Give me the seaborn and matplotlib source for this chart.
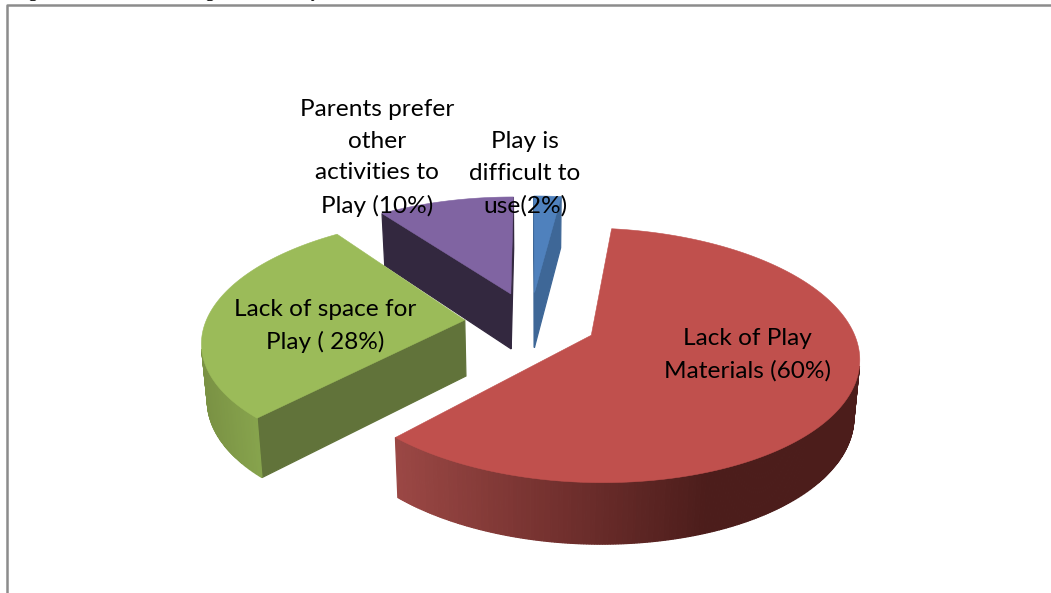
import numpy as np
import seaborn as sns
import matplotlib.pyplot as plt

# values
categories = ["Lack of Play\nMaterials (60%)", "Lack of space for\nPlay ( 28%)",
              "Parents prefer\nother\nactivities to\nPlay (10%)", "Play is\ndifficult to\nuse(2%)"]
values = [60, 28, 10, 2]
top_colors = ["#c0504d", "#9bbb59", "#8064a2", "#4f81bd"]
cut_colors = ["#5a2321", "#61733a", "#33283f", "#3e6797"]
# rim shades, left to right
rim_colors = [["#9a4744", "#74312f", "#4c1d1b", "#4c1d1b"],
              ["#7a9244", "#8aa84f", "#8aa84f"],
              ["#33283f", "#33283f"],
              ["#3e6797", "#3e6797"]]
label_pos = [(747, 355), (325, 326), (377, 158), (525, 174)]
# bottoms of the cut off caption above the frame
caption_bits = ["g", "g", "y"]
caption_x = [33, 210, 315]

# projection of the exploded pie
start_angle = 7.2
cx, cy = 530.5, 322
R, A = 259, 120
persp = 0.155
explode = 0.255
depth = 56
shrink = 0.018

sns.set_style("white")
plt.rcParams['font.family'] = ['Lato', 'DejaVu Sans']

fig = plt.figure(figsize=(10.51, 5.93), dpi=100)
ax = fig.add_axes([0, 0, 1, 1])
ax.set_xlim(0, 1051)
ax.set_ylim(593, 0)
ax.axis('off')


def project(u, v, low=False):
    w = 1 + persp * v
    x = R * u / w
    y = -A * v / w
    if low:
        x = x * (1 - shrink)
        y = y + depth / np.sqrt(w)
    return cx + x, cy + y


def area(pts):
    pts = np.array(pts)
    x, y = pts[:, 0], pts[:, 1]
    return np.sum(x * np.roll(y, -1) - np.roll(x, -1) * y)


def side(a, b, color):
    # a and b are plane points, going clockwise round the slice
    pts = [project(*a), project(*b), project(*b, low=True), project(*a, low=True)]
    if area(pts) < 0:
        ax.fill(*zip(*pts), color=color, lw=0.9)


# frame of the document picture, only top and left are in the crop
ax.plot([1051, 7, 7], [5, 5, 593], color="#8c8c8c", lw=1.8)

for bit, bx in zip(caption_bits, caption_x):
    ax.text(bx, -7.4, bit, ha='center', va='center', fontsize=12, fontweight='bold',
            family='Liberation Serif', color='black')

ends = start_angle + np.cumsum(values) * 3.6
starts = ends - np.array(values) * 3.6
slices = list(zip(starts, ends, top_colors, cut_colors, rim_colors))

# back slices first
for i in [2, 3, 1, 0]:
    s, e, top, cut, rim = slices[i]
    mid = np.radians((s + e) / 2)
    ox, oy = explode * np.sin(mid), explode * np.cos(mid)
    th = np.radians(np.linspace(s, e, int(e - s) * 2 + 2))
    rim_pts = [(ox + np.sin(t), oy + np.cos(t)) for t in th]
    apex = (ox, oy)
    side(apex, rim_pts[0], cut)
    side(rim_pts[-1], apex, cut)
    shades = sns.blend_palette(rim, n_colors=101)
    xs = np.array([project(*p)[0] for p in rim_pts])
    for j in range(len(rim_pts) - 1):
        f = ((xs[j] + xs[j + 1]) / 2 - xs.min()) / (xs.max() - xs.min())
        side(rim_pts[j], rim_pts[j + 1], shades[int(f * 100)])
    outline = [project(*p) for p in [apex] + rim_pts]
    ax.fill(*zip(*outline), color=top, lw=0.4)

for label, (lx, ly) in zip(categories, label_pos):
    ax.text(lx, ly, label, ha='center', va='center', fontsize=17.6, color='black',
            linespacing=1.63)

fig.savefig("out.png", dpi=100)
